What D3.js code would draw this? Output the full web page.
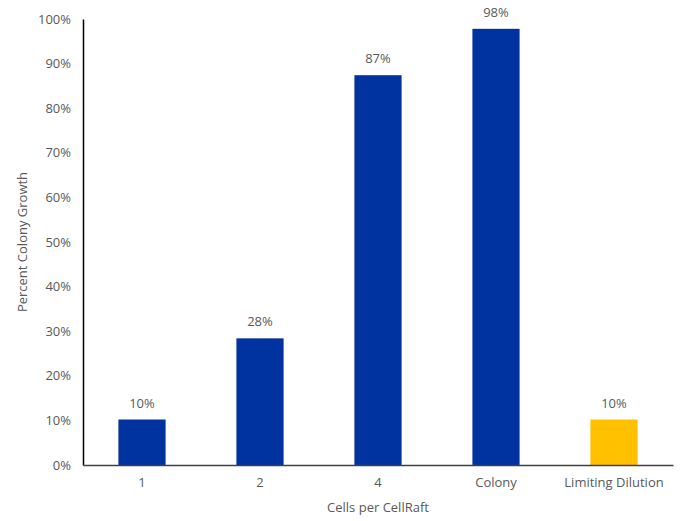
<!DOCTYPE html>
<html><head><meta charset="utf-8">
<script src="https://cdn.jsdelivr.net/npm/d3@7"></script>
<style>body{margin:0;background:#fff}text{font-family:"Open Sans",sans-serif}</style>
</head><body><svg id="c" width="680" height="521"></svg>
<script>
const categories = ["1","2","4","Colony","Limiting Dilution"];
const values = [0.102, 0.284, 0.874, 0.978, 0.102];
const labels = ["10%","28%","87%","98%","10%"];
const colors = ["#0033A0","#0033A0","#0033A0","#0033A0","#FFC000"];
const yTicks = [0,0.1,0.2,0.3,0.4,0.5,0.6,0.7,0.8,0.9,1.0];

const svg = d3.select("#c");
const m = {l:83, r:7, t:19, b:56};
const W = 680, H = 521;
const x = d3.scaleBand().domain(categories).range([m.l, W-m.r]).paddingInner(0.6).paddingOuter(0.3);
const y = d3.scaleLinear().domain([0,1]).range([H-m.b, m.t]);

svg.selectAll("rect.bar").data(values).join("rect").attr("class","bar")
  .attr("x",(d,i)=>x(categories[i])).attr("width",x.bandwidth())
  .attr("y",d=>y(d)).attr("height",d=>y(0)-y(d)).attr("fill",(d,i)=>colors[i]);

svg.selectAll("text.lbl").data(values).join("text").attr("class","lbl")
  .attr("x",(d,i)=>x(categories[i])+x.bandwidth()/2).attr("y",d=>y(d)-12)
  .attr("text-anchor","middle").attr("font-size",13).attr("fill","#595959")
  .text((d,i)=>labels[i]);

const ya = svg.append("g").attr("transform",`translate(${m.l},0)`)
  .call(d3.axisLeft(y).tickValues(yTicks).tickFormat(d3.format(".0%")).tickSize(0).tickPadding(12));
ya.select(".domain").attr("stroke","#000").attr("stroke-width",1.5);
ya.selectAll("text").attr("font-size",13).attr("fill","#595959").attr("font-family","Open Sans, sans-serif");

const xa = svg.append("g").attr("transform",`translate(0,${H-m.b})`)
  .call(d3.axisBottom(x).tickSize(0).tickPadding(13));
xa.select(".domain").attr("stroke","#404040").attr("stroke-width",1.5);
xa.selectAll("text").attr("font-size",13).attr("fill","#595959").attr("font-family","Open Sans, sans-serif");

svg.append("text").attr("x",(m.l+W-m.r)/2).attr("y",512).attr("text-anchor","middle")
  .attr("font-size",13).attr("fill","#595959").text("Cells per CellRaft");
svg.append("text").attr("transform",`translate(27,${(m.t+H-m.b)/2}) rotate(-90)`).attr("text-anchor","middle")
  .attr("font-size",13).attr("fill","#595959").text("Percent Colony Growth");
</script></body></html>
